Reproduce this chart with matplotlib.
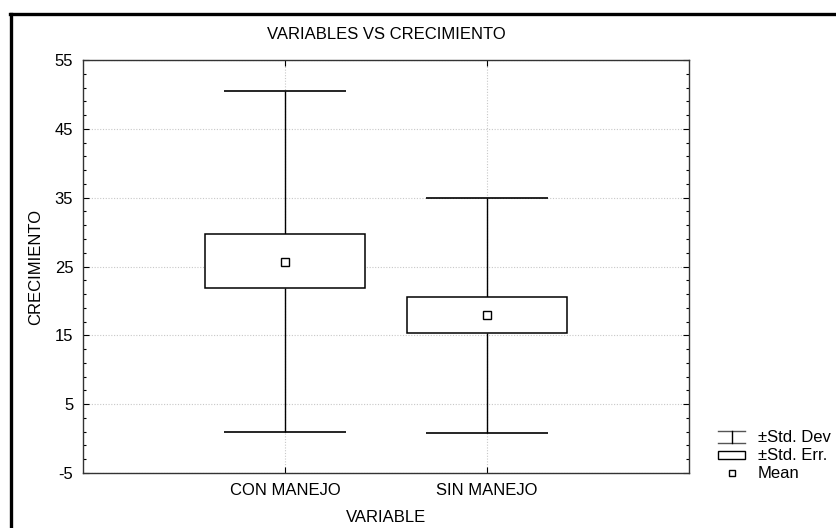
import numpy as np
import matplotlib
matplotlib.use("Agg")
import matplotlib.pyplot as plt
from matplotlib.patches import Rectangle
from matplotlib.lines import Line2D

plt.rcParams["font.family"] = ["Liberation Sans", "DejaVu Sans"]
plt.rcParams["font.size"] = 12
plt.rcParams["axes.unicode_minus"] = False

# Data
categories = ["CON MANEJO", "SIN MANEJO"]
means = [25.7, 17.9]
se_low = [21.9, 15.3]
se_high = [29.7, 20.5]
sd_low = [0.9, 0.8]
sd_high = [50.5, 34.9]
y_ticks = [-5, 5, 15, 25, 35, 45, 55]

W, H = 836, 528
fig = plt.figure(figsize=(W / 100, H / 100), dpi=100)
ax = fig.add_axes([83 / W, 1 - 473 / H, (689 - 83) / W, (473 - 60) / H])

x = np.arange(1, len(categories) + 1)
box_w = 0.79
cap_w = 0.6

# whiskers (std. dev)
ax.vlines(x, sd_low, se_low, color="black", lw=1, zorder=3)
ax.vlines(x, se_high, sd_high, color="black", lw=1, zorder=3)
ax.hlines(sd_low, x - cap_w / 2, x + cap_w / 2, color="black", lw=1.2, zorder=3)
ax.hlines(sd_high, x - cap_w / 2, x + cap_w / 2, color="black", lw=1.2, zorder=3)

# boxes (std. err)
for xi, lo, hi in zip(x, se_low, se_high):
    ax.add_patch(Rectangle((xi - box_w / 2, lo), box_w, hi - lo,
                           facecolor="white", edgecolor="black", lw=1.1, zorder=4))

# means
ax.plot(x, means, "s", ms=6, mfc="white", mec="black", mew=1, zorder=5, ls="none")

ax.set_xlim(0, 3)
ax.set_ylim(-5, 55)
ax.set_xticks(x)
ax.set_xticklabels(categories)
ax.set_yticks(y_ticks)
ax.set_yticks(np.arange(-5, 56, 2), minor=True)
ax.tick_params(direction="in", length=4, width=0.8, top=True, right=True, pad=7)
ax.tick_params(which="minor", direction="in", length=2.5, width=0.8, right=True, left=True)
ax.grid(True, color="#c8c8c8", ls=(0, (1, 1.5)), lw=0.8)
ax.set_axisbelow(True)
for s in ax.spines.values():
    s.set_linewidth(1.0)
    s.set_color("#333333")

ax.set_title("VARIABLES VS CRECIMIENTO", fontsize=12, pad=15)
ax.set_xlabel("VARIABLE", fontsize=12, labelpad=9)
ax.set_ylabel("CRECIMIENTO", fontsize=12, labelpad=8)

# frame lines around the figure
fig.add_artist(Line2D([10 / W, 1], [1 - 14 / H, 1 - 14 / H], color="black", lw=2.4,
                      transform=fig.transFigure))
fig.add_artist(Line2D([11 / W, 11 / W], [1 - 14 / H, 0], color="black", lw=2.4,
                      transform=fig.transFigure))

# legend drawn by hand
tf = fig.transFigure
def fx(px):
    return px / W
def fy(py):
    return 1 - py / H

x0, x1 = 718, 745
# std dev I-beam
yc = 437
fig.add_artist(Line2D([fx(x0), fx(x1)], [fy(yc - 6), fy(yc - 6)], color="#555555", lw=1, transform=tf))
fig.add_artist(Line2D([fx(x0), fx(x1)], [fy(yc + 6), fy(yc + 6)], color="#555555", lw=1, transform=tf))
fig.add_artist(Line2D([fx((x0 + x1) / 2)] * 2, [fy(yc - 6), fy(yc + 6)], color="black", lw=1, transform=tf))
fig.text(fx(758), fy(yc), "±Std. Dev", va="center", ha="left", fontsize=12)
# std err box
yc = 455
fig.add_artist(Rectangle((fx(x0), fy(yc + 4)), (x1 - x0) / W, 8 / H, facecolor="white",
                         edgecolor="black", lw=1, transform=tf))
fig.text(fx(758), fy(yc), "±Std. Err.", va="center", ha="left", fontsize=12)
# mean
yc = 473
fig.add_artist(Line2D([fx((x0 + x1) / 2)], [fy(yc)], marker="s", ms=5, mfc="white",
                      mec="black", mew=1, ls="none", transform=tf))
fig.text(fx(758), fy(yc), "Mean", va="center", ha="left", fontsize=12)

fig.savefig("out.png", dpi=100)
